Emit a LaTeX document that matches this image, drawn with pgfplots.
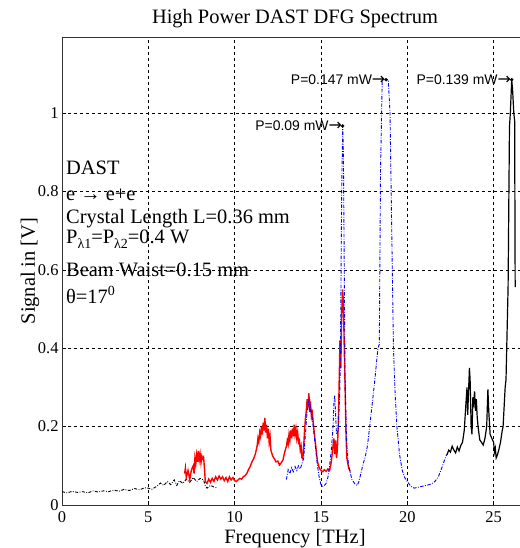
\documentclass[border=0pt]{standalone}
\usepackage{pgfplots}
\pgfplotsset{compat=1.18}
\usepackage{fontspec}
\setmainfont{Liberation Serif}
\newfontfamily\arialfont{Liberation Sans}
\newfontfamily\djv{DejaVu Sans}
\begin{document}
\begin{tikzpicture}
\useasboundingbox (-62bp,-43bp) rectangle (458bp,505bp);
\begin{axis}[
  at={(0,0)}, anchor=south west,
  scale only axis, width=458bp, height=468bp,
  xmin=0, xmax=26.53, ymin=0, ymax=1.194,
  axis x line*=box, axis y line*=left,
  axis line style={line width=0.8bp, black!80},
  xtick={0,5,10,15,20,25}, ytick={0,0.2,0.4,0.6,0.8,1},
  xtick pos=bottom, ytick pos=left,
  tick align=inside, major tick length=4bp,
  tick style={black, line width=0.6bp},
  grid=major,
  major grid style={black, line width=0.6bp, dash pattern=on 3bp off 3bp},
  tick label style={font=\fontsize{16.5}{16.5}\selectfont},
  xticklabel style={yshift=-3bp},
  /pgf/number format/assume math mode=true,
  title={High Power DAST DFG Spectrum},
  title style={at={(axis description cs:0.5087,1.0171)}, anchor=base, font=\fontsize{20.5}{20.5}\selectfont, inner sep=0pt},
  xlabel={Frequency [THz]},
  xlabel style={at={(axis description cs:0.5087,-0.0812)}, anchor=base, font=\fontsize{20.5}{20.5}\selectfont, inner sep=0pt},
  ylabel={Signal in [V]},
  ylabel style={at={(axis description cs:-0.0699,0.5)}, anchor=center, font=\fontsize{20.5}{20.5}\selectfont, inner sep=0pt},
  clip=false,
]
% low-frequency black dash-dot
\addplot[black, line width=0.9bp, dash pattern=on 3bp off 1.5bp on 0.8bp off 1.5bp] coordinates {
(0,0.034) (0.3,0.031) (0.6,0.035) (0.9,0.032) (1.2,0.034) (1.5,0.031) (1.8,0.036) (2.1,0.033)
(2.4,0.036) (2.7,0.034) (3.0,0.038) (3.3,0.035) (3.6,0.040) (3.9,0.037) (4.2,0.042) (4.5,0.039)
(4.8,0.044) (5.0,0.043) (5.2,0.040) (5.5,0.048) (5.7,0.056) (5.9,0.050) (6.1,0.060) (6.3,0.052)
(6.5,0.064) (6.65,0.050) (6.8,0.062) (7.0,0.055) (7.2,0.066) (7.4,0.058) (7.6,0.070) (7.8,0.060)
(8.0,0.068) (8.2,0.064) (8.3,0.050) (8.4,0.043) (8.6,0.050) (8.8,0.046) (9.0,0.043)};
% red solid
\addplot[red, line width=1.4bp] coordinates {
(7.1,0.080) (7.15,0.095) (7.2,0.070) (7.3,0.088) (7.4,0.065) (7.5,0.090) (7.6,0.100) (7.65,0.080)
(7.7,0.120) (7.75,0.105) (7.8,0.128) (7.85,0.110) (7.9,0.138) (7.95,0.115) (8.0,0.130) (8.05,0.108)
(8.1,0.125) (8.15,0.118) (8.2,0.122) (8.25,0.095) (8.3,0.060) (8.4,0.055) (8.5,0.066) (8.6,0.058)
(8.7,0.068) (8.8,0.060) (8.9,0.072) (9.0,0.064) (9.1,0.074) (9.2,0.066) (9.3,0.072) (9.4,0.062)
(9.5,0.070) (9.6,0.060) (9.7,0.072) (9.8,0.064) (9.9,0.070) (10.0,0.062) (10.1,0.060) (10.2,0.064)
(10.3,0.068) (10.4,0.066) (10.5,0.072) (10.6,0.075) (10.7,0.080) (10.8,0.090) (10.9,0.098) (11.0,0.110)
(11.1,0.118) (11.2,0.130) (11.3,0.150) (11.35,0.170) (11.4,0.160) (11.45,0.185) (11.5,0.175) (11.55,0.200)
(11.6,0.180) (11.65,0.210) (11.7,0.190) (11.75,0.222) (11.8,0.185) (11.85,0.205) (11.9,0.170) (11.95,0.195)
(12.0,0.160) (12.05,0.175) (12.1,0.140) (12.2,0.125) (12.3,0.118) (12.4,0.110) (12.5,0.112) (12.6,0.102)
(12.7,0.108) (12.8,0.115) (12.9,0.135) (13.0,0.150) (13.05,0.165) (13.1,0.155) (13.15,0.180) (13.2,0.165)
(13.25,0.190) (13.3,0.170) (13.35,0.195) (13.4,0.175) (13.45,0.205) (13.5,0.180) (13.55,0.195) (13.6,0.170)
(13.65,0.185) (13.7,0.160) (13.75,0.165) (13.8,0.140) (13.85,0.150) (13.9,0.120) (13.95,0.118) (14.0,0.150)
(14.05,0.190) (14.1,0.220) (14.15,0.240) (14.2,0.270) (14.25,0.250) (14.3,0.285) (14.35,0.240) (14.4,0.255)
(14.45,0.225) (14.5,0.235) (14.6,0.190) (14.7,0.150) (14.8,0.110) (14.9,0.095) (15.0,0.088) (15.1,0.085)
(15.2,0.090) (15.3,0.086) (15.4,0.092) (15.5,0.088) (15.6,0.110) (15.7,0.150) (15.75,0.170) (15.8,0.130)
(15.85,0.165) (15.9,0.120) (15.95,0.140) (16.0,0.200) (16.05,0.300) (16.1,0.420) (16.15,0.350) (16.2,0.480)
(16.25,0.550) (16.3,0.520) (16.35,0.400) (16.4,0.300) (16.45,0.180) (16.5,0.120) (16.6,0.095) (16.7,0.085)};
% blue dash-dot
\addplot[blue, line width=0.9bp, dash pattern=on 3.5bp off 1.5bp on 0.8bp off 1.5bp] coordinates {
(13.0,0.065) (13.1,0.090) (13.2,0.080) (13.3,0.095) (13.4,0.085) (13.5,0.098) (13.6,0.088) (13.7,0.100)
(13.8,0.092) (13.9,0.105) (14.0,0.120) (14.1,0.180) (14.2,0.240) (14.3,0.265) (14.35,0.235) (14.4,0.250)
(14.5,0.220) (14.6,0.180) (14.7,0.140) (14.8,0.100) (14.9,0.070) (15.0,0.052) (15.1,0.048) (15.2,0.050)
(15.3,0.055) (15.4,0.070) (15.5,0.100) (15.6,0.140) (15.7,0.200) (15.75,0.260) (15.8,0.280) (15.85,0.230)
(15.9,0.180) (16.0,0.190) (16.1,0.300) (16.15,0.500) (16.2,0.800) (16.26,0.967) (16.3,0.900) (16.35,0.600)
(16.4,0.300) (16.5,0.150) (16.6,0.100) (16.8,0.064) (17.0,0.052) (17.1,0.050) (17.2,0.060) (17.4,0.097)
(17.6,0.130) (17.7,0.153) (17.95,0.250) (18.1,0.310) (18.3,0.400) (18.38,0.410) (18.45,0.850) (18.55,1.085)
(18.77,1.085) (18.9,1.085) (19.0,1.000) (19.1,0.700) (19.2,0.400) (19.3,0.280) (19.4,0.200) (19.55,0.130)
(19.7,0.090) (19.85,0.070) (20.0,0.060) (20.2,0.048) (20.4,0.043) (20.6,0.045) (20.8,0.047) (21.0,0.049)
(21.2,0.051) (21.4,0.054) (21.6,0.060) (21.8,0.072) (22.0,0.095) (22.1,0.107) (22.2,0.120) (22.3,0.130)};
% high-frequency black solid
\addplot[black, line width=1.2bp] coordinates {
(22.3,0.128) (22.4,0.140) (22.5,0.135) (22.6,0.150) (22.7,0.140) (22.8,0.133) (22.9,0.148) (23.0,0.138)
(23.1,0.152) (23.2,0.160) (23.3,0.190) (23.4,0.260) (23.46,0.300) (23.5,0.230) (23.6,0.350) (23.64,0.320)
(23.7,0.200) (23.75,0.180) (23.8,0.275) (23.85,0.260) (23.9,0.290) (23.95,0.240) (24.0,0.270) (24.05,0.225)
(24.1,0.200) (24.2,0.166) (24.3,0.160) (24.4,0.153) (24.5,0.170) (24.6,0.200) (24.67,0.295) (24.72,0.240)
(24.8,0.180) (24.9,0.170) (25.0,0.160) (25.05,0.135) (25.1,0.145) (25.15,0.120) (25.2,0.125) (25.3,0.140)
(25.4,0.160) (25.5,0.190) (25.55,0.200) (25.67,0.300) (25.72,0.320) (25.84,0.556) (25.92,0.965) (25.97,1.000)
(26.05,1.085) (26.1,1.060) (26.17,1.000) (26.22,0.980) (26.25,0.556)};
% measurement points
\addplot[only marks, mark=*, mark size=1.5bp, black] coordinates {(16.26,0.967) (18.77,1.085) (26.05,1.085)};
% annotations
\node[anchor=base east, inner sep=0pt, font=\arialfont\fontsize{14}{14}\selectfont, xshift=-0.5bp, yshift=-5bp] at (axis cs:16.26,0.967) {P=0.09 mW{\djv\fontsize{16}{16}\selectfont →}};
\node[anchor=base east, inner sep=0pt, font=\arialfont\fontsize{14}{14}\selectfont, xshift=-0.5bp, yshift=-5bp] at (axis cs:18.77,1.085) {P=0.147 mW{\djv\fontsize{16}{16}\selectfont →}};
\node[anchor=base east, inner sep=0pt, font=\arialfont\fontsize{14}{14}\selectfont, xshift=-0.5bp, yshift=-5bp] at (axis cs:26.05,1.085) {P=0.139 mW{\djv\fontsize{16}{16}\selectfont →}};
% text block
\begin{scope}[every node/.style={anchor=base west, inner sep=0pt, font=\fontsize{20.5}{20.5}\selectfont}]
\node at (axis cs:0.23,0.844) {DAST};
\node at (axis cs:0.23,0.778) {e → e+e};
\node at (axis cs:0.23,0.717) {Crystal Length L=0.36 mm};
\node at (axis cs:0.23,0.668) {P\raisebox{-5bp}{\fontsize{14}{14}\selectfont λ1}=P\raisebox{-5bp}{\fontsize{14}{14}\selectfont λ2}=0.4 W};
\node at (axis cs:0.23,0.582) {Beam Waist=0.15 mm};
\node at (axis cs:0.23,0.515) {θ=17\raisebox{8bp}{\fontsize{14}{14}\selectfont 0}};
\end{scope}
\end{axis}
\end{tikzpicture}
\end{document}
